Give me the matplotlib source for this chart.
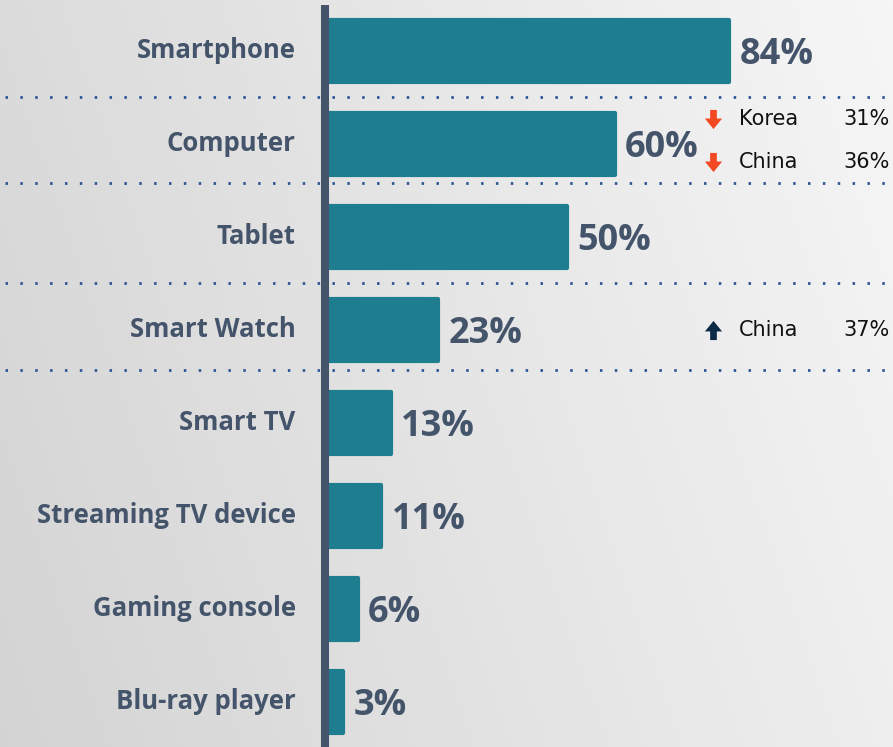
import numpy as np
import matplotlib.pyplot as plt
from matplotlib.path import Path as MPath

devices = ['Smartphone', 'Computer', 'Tablet', 'Smart Watch', 'Smart TV',
           'Streaming TV device', 'Gaming console', 'Blu-ray player']
shares = [84, 60, 50, 23, 13, 11, 6, 3]

# country callouts: (row, offset, direction, country, value)
note_rows = [1, 1, 3]
note_offsets = [-0.27, 0.19, 0.0]
note_dirs = ['down', 'down', 'up']
note_countries = ['Korea', 'China', 'China']
note_values = ['31%', '36%', '37%']

W, H = 893, 747
px_per_pct = 4.76
x0_px = 329
row0_px, row_step = 51, 93

bar_color = '#1e7d8e'
label_color = '#44546a'

fig = plt.figure(figsize=(W / 100, H / 100), dpi=100)
ax = fig.add_axes([0, 0, 1, 1])

# background gradient (darker bottom-left, lighter top-right)
gx = np.linspace(0, 1, 300)
gy = np.linspace(0, 1, 200)
GX, GY = np.meshgrid(gx, gy)
g = 0.83 + 0.105 * GX + 0.03 * (1 - GY)
ax.imshow(np.dstack([g, g, g]), extent=[0, 1, 0, 1], transform=ax.transAxes,
          aspect='auto', zorder=0)

xmin = -x0_px / px_per_pct
xmax = (W - x0_px) / px_per_pct
ymin = -row0_px / row_step
ymax = (H - row0_px) / row_step
ax.set_xlim(xmin, xmax)
ax.set_ylim(ymax, ymin)
ax.axis('off')

y = np.arange(len(devices))
ax.barh(y, shares, height=0.66, left=0, color=bar_color, edgecolor=bar_color,
        linewidth=3.0, joinstyle='round', zorder=3)

# vertical axis line
ax.plot([-0.85, -0.85], [ymin + 5 / row_step, ymax], color=label_color,
        lw=5.8, solid_capstyle='butt', zorder=4)

# dotted separators
for yy in [0.49, 1.42, 2.49, 3.43]:
    ax.plot([xmin + 5 / px_per_pct, xmax], [yy, yy], color='#2f5597',
            lw=2.0, linestyle=(0, (0.9, 4.45)), zorder=2)

for i, (d, v) in enumerate(zip(devices, shares)):
    ax.text(-7.0, i - 0.01, d, ha='right', va='center', fontsize=18.5,
            fontweight='bold', family='Open Sans', color=label_color, zorder=5)
    ax.text(v + 2.2, i + 0.04, f'{v}%', ha='left', va='center', fontsize=26,
            fontweight='bold', family='Open Sans', color=label_color, zorder=5)

# block arrow markers
down_arrow = MPath([(-0.35, 1), (0.35, 1), (0.35, 0.1), (0.9, 0.1), (0, -1),
                    (-0.9, 0.1), (-0.35, 0.1), (-0.35, 1)], closed=True)
up_arrow = MPath([(-0.35, -1), (0.35, -1), (0.35, -0.1), (0.9, -0.1), (0, 1),
                  (-0.9, -0.1), (-0.35, -0.1), (-0.35, -1)], closed=True)

arrow_x = (713 - x0_px) / px_per_pct
for r, off, dr, c, val in zip(note_rows, note_offsets, note_dirs,
                              note_countries, note_values):
    yy = r + off
    if dr == 'down':
        ax.scatter([arrow_x], [yy], marker=down_arrow, s=190, color='#f24822',
                   linewidths=0, zorder=5)
    else:
        ax.scatter([arrow_x], [yy], marker=up_arrow, s=190, color='#0d2a48',
                   linewidths=0, zorder=5)
    ax.text((739 - x0_px) / px_per_pct, yy, c, ha='left', va='center',
            fontsize=15, family='DejaVu Sans', color='#111111', zorder=5)
    ax.text((890 - x0_px) / px_per_pct, yy, val, ha='right', va='center',
            fontsize=15, family='DejaVu Sans', color='#111111', zorder=5)

fig.savefig('out.png', dpi=100)
